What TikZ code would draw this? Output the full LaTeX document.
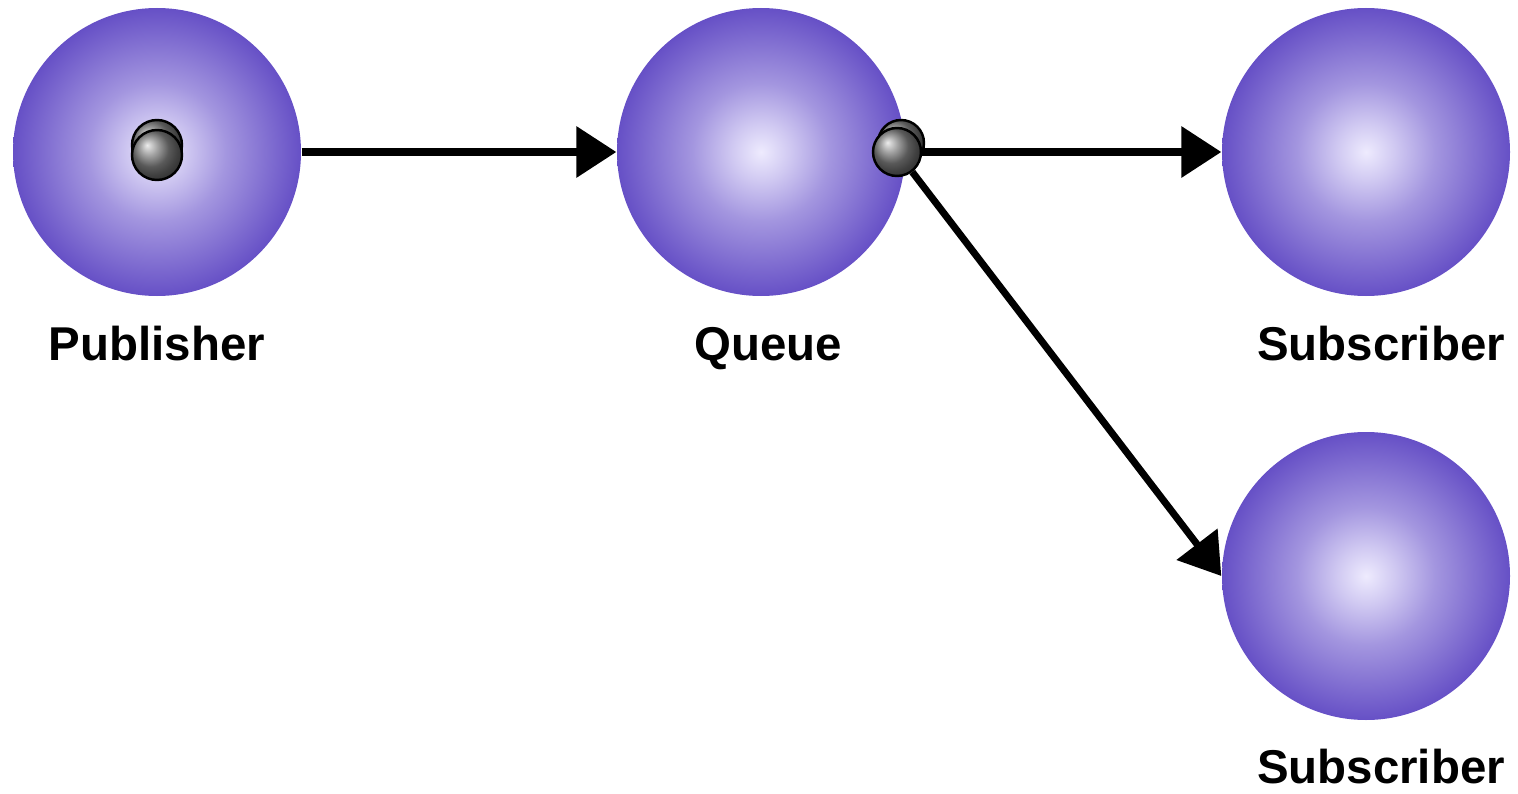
\documentclass[tikz,border=0pt]{standalone}
\usepackage{fontspec}
\setmainfont{Liberation Sans}
\usetikzlibrary{arrows.meta, shapes.geometric, positioning}
\definecolor{myviolet}{RGB}{102, 80, 198}
\definecolor{mylavender}{RGB}{238, 235, 254}
\pgfdeclareradialshading{sphere}{\pgfpoint{0bp}{0bp}}{color(0bp)=(mylavender); color(5bp)=(mylavender!78!myviolet); color(12bp)=(mylavender!45!myviolet); color(25bp)=(myviolet); color(50bp)=(myviolet)}
\tikzstyle{party} = [circle, minimum size=2.88cm, inner sep=0pt, shading=sphere]
\tikzstyle{msg} = [circle, minimum size=0.5cm, inner sep=0pt, draw=black, line width=0.7pt, ball color=black!50]
\tikzstyle{partyname} = [text height=0.72em, text depth=0pt, font=\fontsize{13.5}{16}\selectfont\bfseries]
\tikzstyle{arrow} = [line width=2pt, -{Triangle[length=0.4cm, width=0.5cm]}]

\begin{document}
\begin{tikzpicture}[node distance=6.04cm]
\useasboundingbox (0,0) rectangle (15.18,7.93);


\node (pub) [party] at (1.57,6.41) {};
\node (queue) [party, right of=pub] {};
\node (subA) [party, right of=queue, xshift=0.01cm] {};
\node (subB) [party, below of=subA, yshift=1.8cm] {};


\node (pubname) [partyname, below of=pub, yshift=4.08cm] {Publisher};
\node (queuename) [partyname, below of=queue, yshift=4.08cm, xshift=0.07cm] {Queue};
\node (subAname) [partyname, below of=subA, yshift=4.08cm, xshift=0.15cm] {Subscriber};
\node (subBname) [partyname, below of=subB, yshift=4.09cm, xshift=0.15cm] {Subscriber};

% messages
\node (pubmsgback) [msg] at ([yshift=0.07cm]pub.center) {};
\node (pubmsg) [msg] at ([yshift=-0.03cm]pub.center) {};
\node (queuemsgback) [msg, minimum size=0.46cm] at ([xshift=1.4cm, yshift=0.09cm]queue.center) {};
\node (queuemsg) [msg, minimum size=0.48cm] at ([xshift=1.36cm]queue.center) {};

\draw[arrow] (pub) -- (queue);
\draw[arrow] (queuemsg) -- (subA);
\draw[arrow] (queuemsg) -- (subB.west);

\end{tikzpicture}
\end{document}
